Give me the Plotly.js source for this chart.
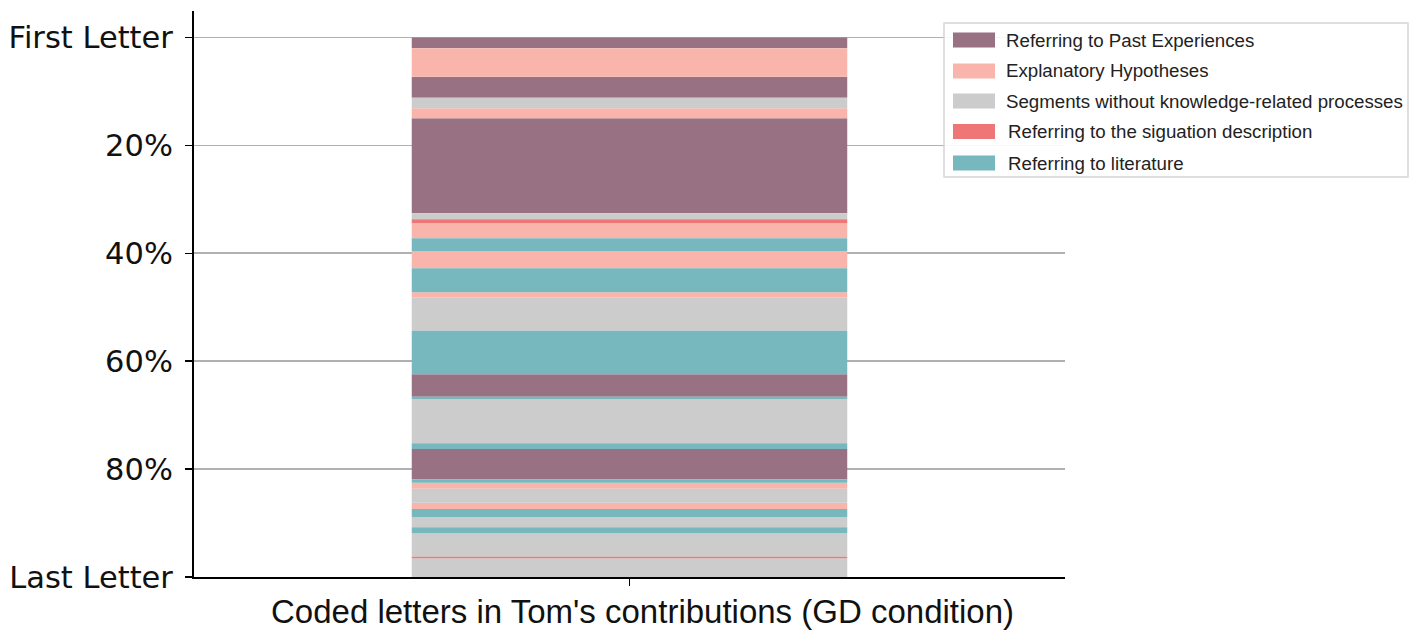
<!DOCTYPE html>
<html>
<head>
<meta charset="utf-8">
<script src="https://cdn.plot.ly/plotly-3.0.1.min.js"></script>
<style>html,body{margin:0;padding:0;background:#fff;}#chart{width:1418px;height:636px;}</style>
</head>
<body>
<div id="chart"></div>
<script>
// Categories (legend order) and their colours
const categories = [
  "Referring to Past Experiences",
  "Explanatory Hypotheses",
  "Segments without knowledge-related processes",
  "Referring to the siguation description",
  "Referring to literature"
];
const categoryColors = ["#987183", "#F9B5AC", "#CCCCCC", "#EE7677", "#77B8BE"];

// Sequence of coded segments from first letter to last letter
// (index into categories) and their share of letters in percent
const segmentCategory = [0,1,0,2,1,0,2,3,1,4,1,4,1,2,4,0,4,2,4,0,4,1,2,1,4,2,4,2,3,2];
const segmentShare    = [2.0,5.27,3.89,1.96,1.86,17.6,1.1,0.76,2.78,2.35,3.21,4.45,0.93,6.19,8.08,
                         4.15,0.48,8.16,1.05,5.62,0.63,1.11,2.6,1.17,1.48,1.91,1.11,4.33,0.3,3.47];

// Axis ticks
const yTickVals = [0, 20, 40, 60, 80, 100];
const yTickText = ["First Letter", "20%", "40%", "60%", "80%", "Last Letter"];
const xTitle = "Coded letters in Tom's contributions (GD condition)";

// compute segment starts
const starts = [];
let acc = 0;
segmentShare.forEach(v => { starts.push(acc); acc += v; });

const traces = categories.map((name, ci) => {
  const y = [], base = [], x = [];
  segmentCategory.forEach((c, i) => {
    if (c === ci) { x.push(0); y.push(segmentShare[i]); base.push(starts[i]); }
  });
  return {
    type: "bar", name: name, x: x, y: y, base: base, width: 1,
    marker: {color: categoryColors[ci], line: {width: 0}},
    showlegend: false, hoverinfo: "skip"
  };
});

// custom legend (pixel geometry converted to paper coordinates)
const plotL = 194, plotR = 1065, plotT = 11, plotB = 577;
const px = X => (X - plotL) / (plotR - plotL);
const py = Y => (plotB - Y) / (plotB - plotT);
const rowY = [40, 71, 101, 131.5, 163];
const shapes = [{
  type: "rect", xref: "paper", yref: "paper",
  x0: px(944), x1: px(1408), y0: py(177), y1: py(23),
  line: {color: "#d5d5d5", width: 1.5}, fillcolor: "rgba(255,255,255,0.9)", layer: "above"
}];
const annotations = [];
categories.forEach((name, i) => {
  shapes.push({
    type: "rect", xref: "paper", yref: "paper",
    x0: px(953), x1: px(995), y0: py(rowY[i] + 7.5), y1: py(rowY[i] - 7.5),
    line: {width: 0}, fillcolor: categoryColors[i], layer: "above"
  });
  annotations.push({
    xref: "paper", yref: "paper", x: px(i >= 3 ? 1006 : 1004), y: py(rowY[i]),
    xanchor: "left", yanchor: "middle", showarrow: false, text: name,
    font: {family: "Liberation Sans, Arial, sans-serif", size: 18.7, color: "#222"}
  });
});
// x-axis title
annotations.push({
  xref: "paper", yref: "paper", x: px(642), y: py(611),
  xanchor: "center", yanchor: "middle", showarrow: false, text: xTitle,
  font: {family: "Liberation Sans, Arial, sans-serif", size: 33, color: "#111"}
});

const layout = {
  width: 1418, height: 636,
  margin: {l: plotL, r: 1418 - plotR, t: plotT, b: 636 - plotB},
  paper_bgcolor: "#fff", plot_bgcolor: "#fff",
  barmode: "overlay", showlegend: false,
  xaxis: {
    range: [-1, 1], tickvals: [0], ticktext: [""],
    ticks: "outside", ticklen: 7, tickwidth: 1.5, tickcolor: "#000",
    showline: true, linecolor: "#000", linewidth: 2, showgrid: false, zeroline: false
  },
  yaxis: {
    range: [100, -4.9], tickvals: yTickVals, ticktext: yTickText,
    ticks: "outside", ticklen: 7, tickwidth: 1.5, tickcolor: "#000",
    ticklabelstandoff: 6,
    showline: true, linecolor: "#000", linewidth: 2,
    showgrid: true, gridcolor: "#b0b0b0", gridwidth: 1.6, zeroline: false,
    tickfont: {family: "DejaVu Sans, sans-serif", size: 30.5, color: "#111"}
  },
  shapes: shapes,
  annotations: annotations
};

Plotly.newPlot("chart", traces, layout, {displayModeBar: false, staticPlot: true});
</script>
</body>
</html>
